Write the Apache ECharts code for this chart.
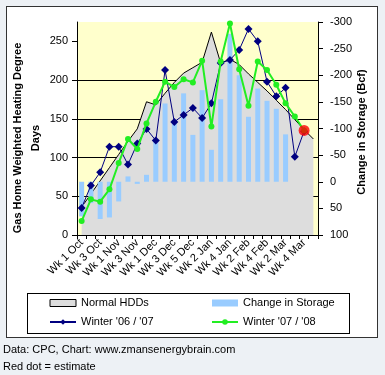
<!DOCTYPE html>
<html><head><meta charset="utf-8">
<script src="https://cdn.jsdelivr.net/npm/echarts@6/dist/echarts.min.js"></script>
<style>
html,body{margin:0;padding:0;background:#EDF1F5;}
#wrap{position:relative;width:385px;height:375px;overflow:hidden;background:#EDF1F5;}
#frame{position:absolute;left:6px;top:6px;width:372px;height:332px;background:#fff;border:1px solid #333;box-sizing:border-box;}
#legbox{position:absolute;left:27px;top:293px;width:323px;height:41px;border:1px solid #000;box-sizing:border-box;}
#chart{position:absolute;left:0;top:0;width:385px;height:375px;}
</style></head>
<body><div id="wrap"><div id="frame"></div><div id="legbox"></div><div id="chart"></div></div>
<script>
const categories = ['Wk 1 Oct','Wk 2 Oct','Wk 3 Oct','Wk 4 Oct','Wk 1 Nov','Wk 2 Nov','Wk 3 Nov','Wk 4 Nov',
  'Wk 1 Dec','Wk 2 Dec','Wk 3 Dec','Wk 4 Dec','Wk 5 Dec','Wk 1 Jan','Wk 2 Jan','Wk 3 Jan','Wk 4 Jan',
  'Wk 1 Feb','Wk 2 Feb','Wk 3 Feb','Wk 4 Feb','Wk 1 Mar','Wk 2 Mar','Wk 3 Mar','Wk 4 Mar','Wk 5 Mar'];
const normalHDD = [36, 53, 70, 87, 104, 121, 137, 172, 168, 183, 197, 209, 216, 223, 262, 222, 227, 220, 208, 197, 186, 174, 162, 149, 136, 124];
const storageChange = [65, 40, 70, 67, 37, -10, 4, -13, -80, -147, -115, -166, -88, -172, -60, -155, -278, -200, -122, -175, -152, -137, -89, null, null, null];
const winter0607 = [35, 64, 81, 114, 114, 91, 118, 137, 122, 213, 146, 155, 164, 151, 170, 222, 226, 239, 266, 250, 198, 179, 190, 101, 134];
const winter0708 = [18, 46, 43, 59, 93, 124, 111, 144, 172, 198, 191, 201, 197, 225, 140, 224, 273, 214, 167, 224, 213, 194, 170, 153, 135];
const estimateIndex = 24;
const hddTicks = [0, 50, 100, 150, 200, 250];
const storageTicks = [-300, -250, -200, -150, -100, -50, 0, 50, 100];

const FONT = 'Liberation Sans, Arial, sans-serif';
const chart = echarts.init(document.getElementById('chart'));
chart.setOption({
  backgroundColor: 'transparent',
  animation: false,
  textStyle: { fontFamily: FONT, color: '#000' },
  grid: { left: 77, right: 67, top: 22, bottom: 140, show: true, backgroundColor: '#FFFFCC', borderWidth: 0 },
  xAxis: {
    type: 'category', data: categories, boundaryGap: true,
    axisLine: { lineStyle: { color: '#000', width: 1 } },
    axisTick: { show: true, interval: 0, length: 4, lineStyle: { color: '#000' } },
    axisLabel: { interval: 1, rotate: 45, color: '#000', fontSize: 11, margin: 6, fontFamily: FONT }
  },
  yAxis: [
    { type: 'value', min: 0, max: 275, interval: 50, position: 'left',
      axisLine: { show: true, lineStyle: { color: '#000' } },
      axisTick: { show: true, length: 5, lineStyle: { color: '#000' }, customValues: hddTicks },
      axisLabel: { color: '#000', fontSize: 11, margin: 9, fontFamily: FONT, customValues: hddTicks },
      splitLine: { show: true, showMaxLine: false, lineStyle: { color: '#000', width: 1 } } },
    { type: 'value', min: -300, max: 100, interval: 50, inverse: true, position: 'right',
      axisLine: { show: true, lineStyle: { color: '#000' } },
      axisTick: { show: true, length: 5, lineStyle: { color: '#000' }, customValues: storageTicks },
      axisLabel: { color: '#000', fontSize: 11, margin: 12, fontFamily: FONT, customValues: storageTicks },
      splitLine: { show: false } }
  ],
  legend: [
    { orient: 'vertical', left: 49, top: 297, padding: 0, itemGap: 7, itemWidth: 26, itemHeight: 7,
      textStyle: { fontSize: 11, color: '#000', fontFamily: FONT, lineHeight: 12 },
      data: [
        { name: 'Normal HDDs', icon: 'rect', itemStyle: { color: '#DDDDDD', borderColor: '#000', borderWidth: 1 } },
        { name: "Winter '06 / '07" }
      ] },
    { orient: 'vertical', left: 211, top: 297, padding: 0, itemGap: 7, itemWidth: 26, itemHeight: 7,
      textStyle: { fontSize: 11, color: '#000', fontFamily: FONT, lineHeight: 12 },
      data: [
        { name: 'Change in Storage', icon: 'rect', itemStyle: { color: '#99CCFF' } },
        { name: "Winter '07 / '08" }
      ] }
  ],
  series: [
    { name: 'Normal HDDs', type: 'line', yAxisIndex: 0, data: normalHDD, symbol: 'none', z: 1,
      lineStyle: { color: '#000', width: 1 }, itemStyle: { color: '#DDDDDD' },
      areaStyle: { color: '#DDDDDD', opacity: 1 } },
    { name: 'Change in Storage', type: 'bar', yAxisIndex: 1, data: storageChange, barWidth: 5, z: 2,
      itemStyle: { color: '#99CCFF' } },
    { name: "Winter '06 / '07", type: 'line', yAxisIndex: 0, data: winter0607, z: 3, showAllSymbol: true,
      symbol: 'diamond', symbolSize: 8, itemStyle: { color: '#000080' }, lineStyle: { color: '#000080', width: 1 } },
    { name: "Winter '07 / '08", type: 'line', yAxisIndex: 0, data: winter0708, z: 4, showAllSymbol: true,
      symbol: 'circle', symbolSize: 6, itemStyle: { color: '#22EE22' }, lineStyle: { color: '#22EE22', width: 2 } },
    { name: 'Estimate', type: 'scatter', yAxisIndex: 0, z: 5,
      data: [[estimateIndex, winter0708[estimateIndex]]], symbolSize: 11, itemStyle: { color: '#FF0000' } }
  ],
  graphic: [
    { type: 'text', x: 27, y: 138, rotation: Math.PI / 2,
      style: { text: 'Gas Home Weighted Heating Degree\nDays', fill: '#000', font: 'bold 11px ' + FONT,
        align: 'center', verticalAlign: 'middle', textAlign: 'center', textVerticalAlign: 'middle', lineHeight: 18 } },
    { type: 'text', x: 362, y: 132, rotation: Math.PI / 2,
      style: { text: 'Change in Storage (Bcf)', fill: '#000', font: 'bold 11px ' + FONT,
        align: 'center', verticalAlign: 'middle', textAlign: 'center', textVerticalAlign: 'middle' } },
    { type: 'text', left: 3, top: 344,
      style: { text: 'Data: CPC, Chart: www.zmansenergybrain.com', fill: '#000', font: '11px ' + FONT } },
    { type: 'text', left: 3, top: 361,
      style: { text: 'Red dot = estimate', fill: '#000', font: '11px ' + FONT } }
  ]
});
</script></body></html>
